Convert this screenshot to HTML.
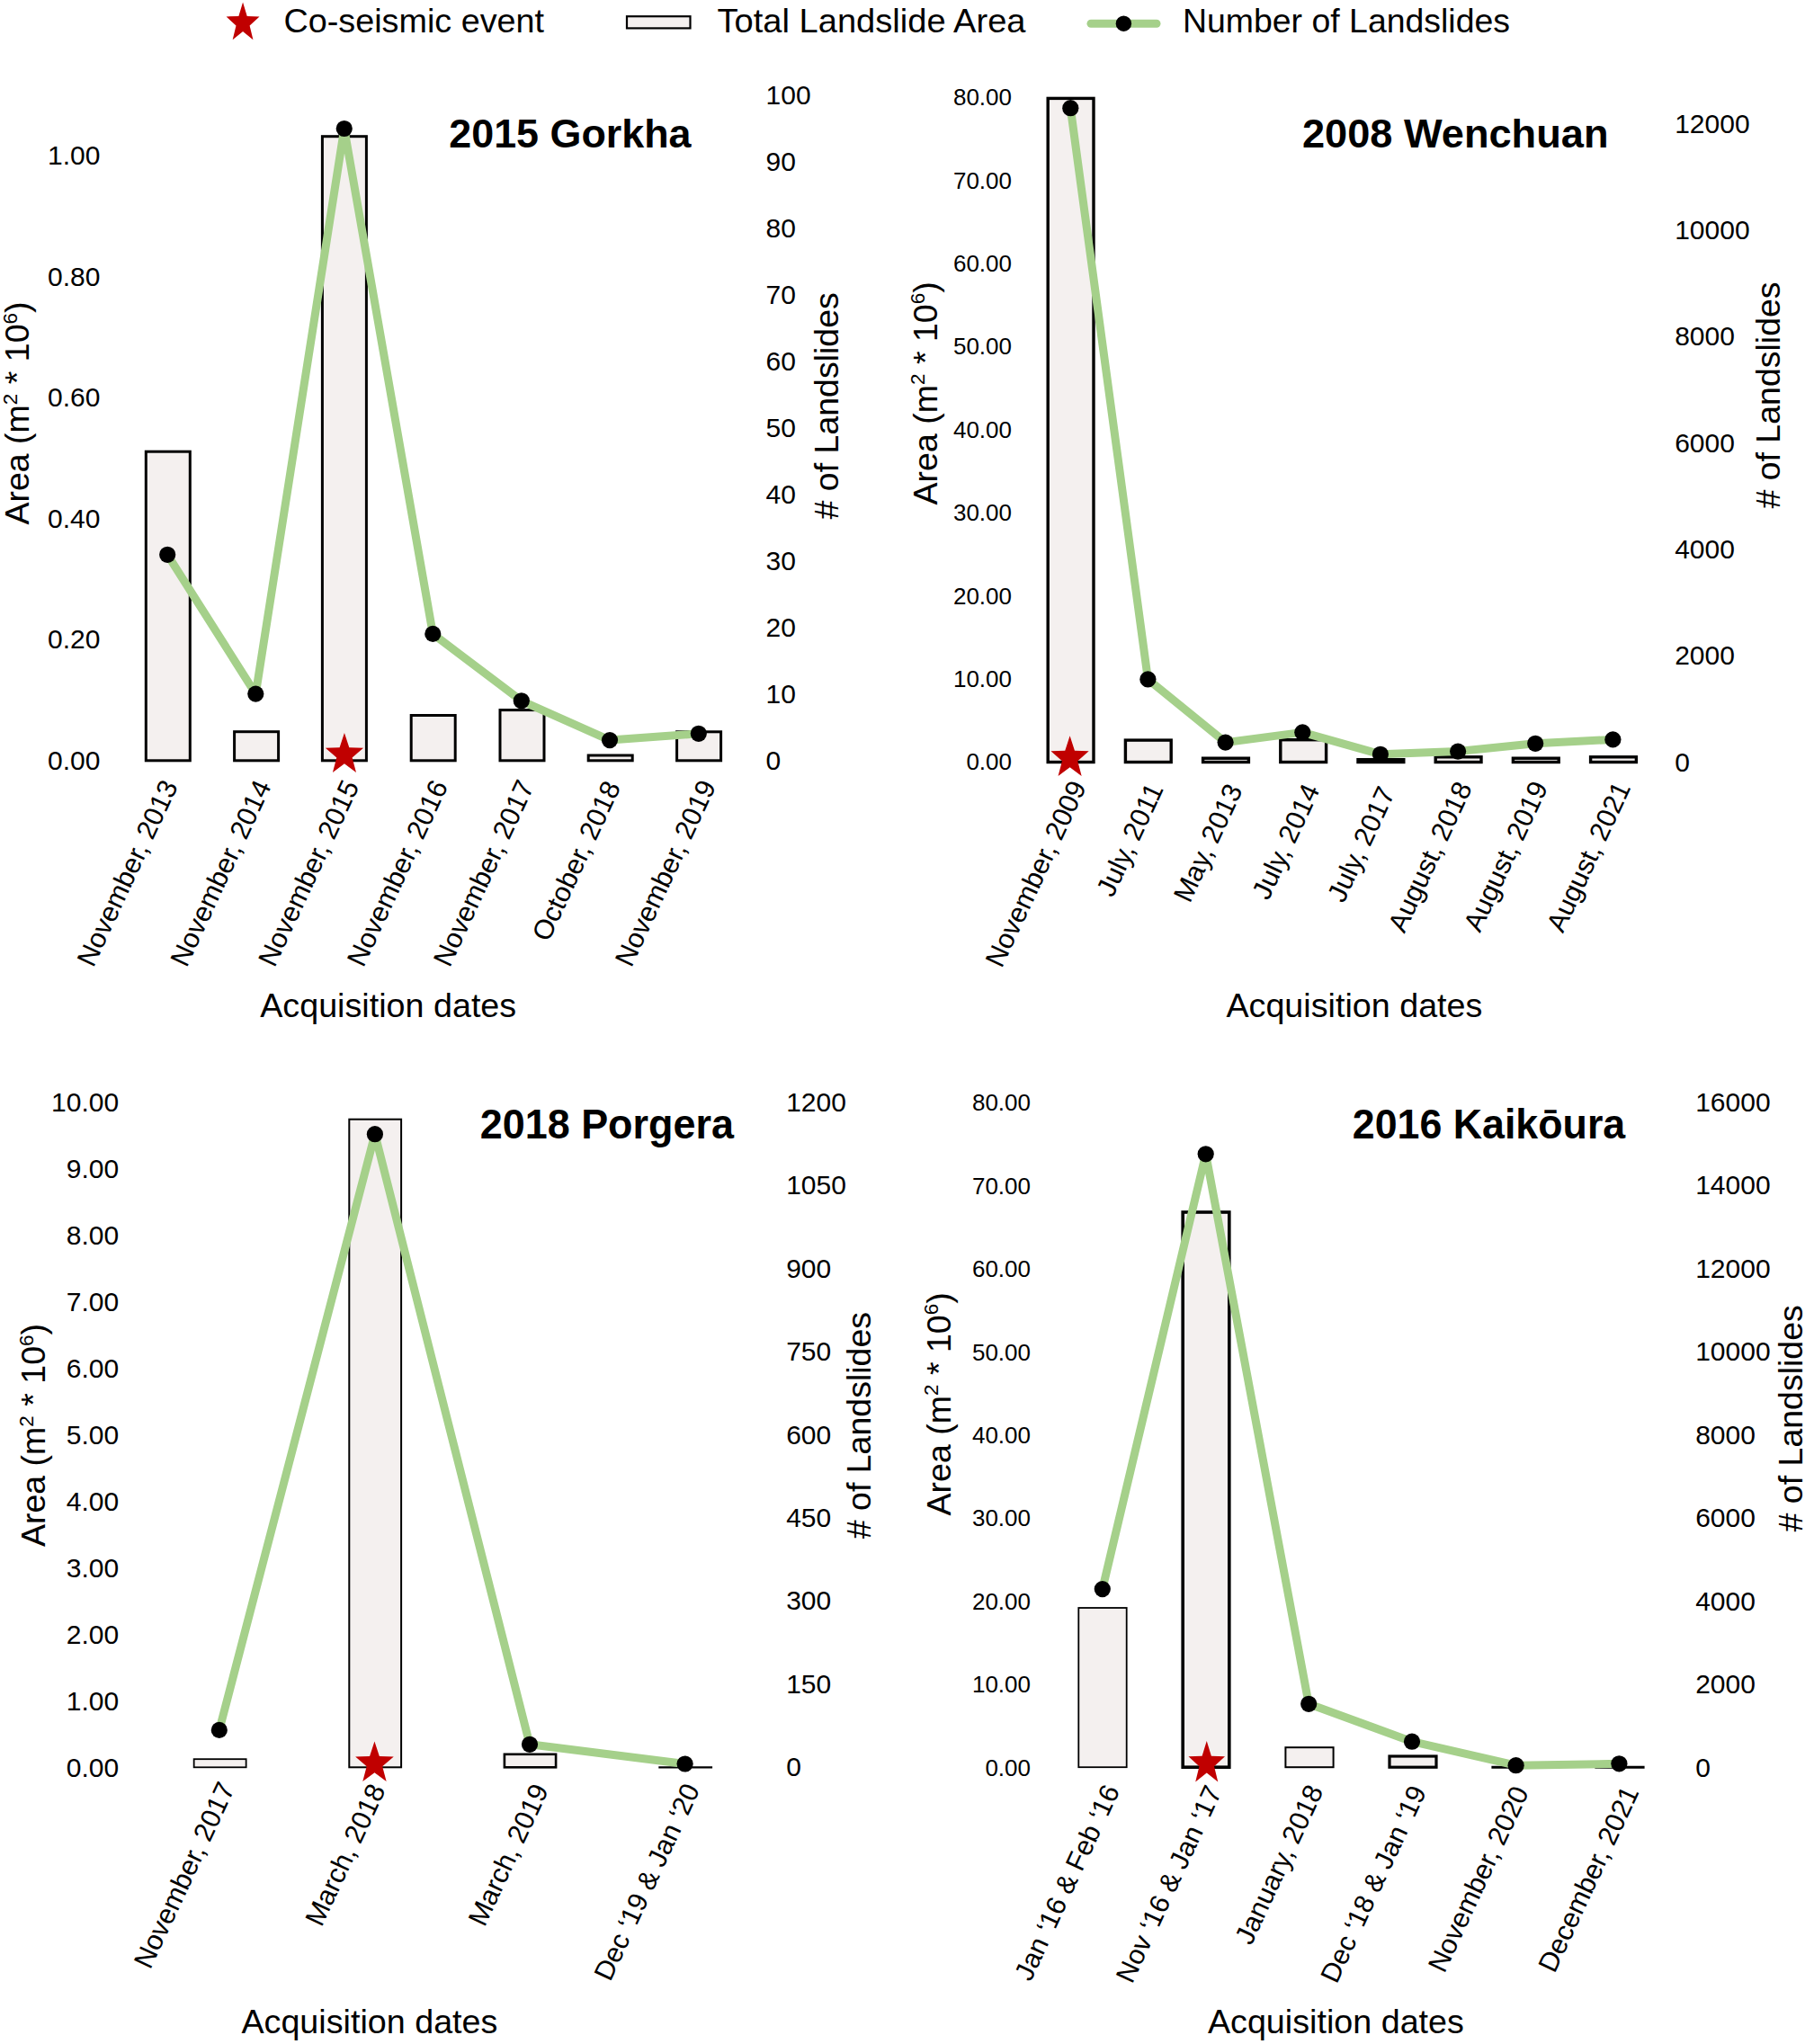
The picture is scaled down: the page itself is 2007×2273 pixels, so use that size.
<!DOCTYPE html>
<html><head><meta charset="utf-8"><title>Landslide time series</title>
<style>
html,body{margin:0;padding:0;background:#fff;}
svg{display:block;}
text{font-family:"Liberation Sans", Arial, Helvetica, sans-serif;fill:#000;}
</style></head><body>
<svg width="2007" height="2273" viewBox="0 0 2007 2273">
<rect width="2007" height="2273" fill="#fff"/>
<polygon points="270.05,2.40 274.73,17.90 288.50,18.43 277.61,28.54 281.45,44.37 270.05,35.11 258.65,44.37 262.49,28.54 251.60,18.43 265.37,17.90" fill="#c00000"/>
<text x="315.50" y="35.50" font-size="37.50" textLength="289.50" lengthAdjust="spacingAndGlyphs">Co-seismic event</text>
<rect x="697" y="18.2" width="70.5" height="13.2" fill="#f4f0ef" stroke="#000" stroke-width="2.2"/>
<text x="797.50" y="35.50" font-size="37.50" textLength="343.00" lengthAdjust="spacingAndGlyphs">Total Landslide Area</text>
<line x1="1213" y1="26.3" x2="1286" y2="26.3" stroke="#a5d08a" stroke-width="9" stroke-linecap="round"/>
<circle cx="1249.4" cy="26.2" r="8.7"/>
<text x="1315.00" y="35.50" font-size="37.50" textLength="364.00" lengthAdjust="spacingAndGlyphs">Number of Landslides</text>
<rect x="162.30" y="502.20" width="49.00" height="343.60" fill="#f4f0ef" stroke="#000" stroke-width="3.00"/>
<rect x="260.60" y="813.70" width="49.00" height="32.10" fill="#f4f0ef" stroke="#000" stroke-width="3.00"/>
<rect x="358.40" y="151.70" width="49.00" height="694.10" fill="#f4f0ef" stroke="#000" stroke-width="3.00"/>
<rect x="457.20" y="795.50" width="49.00" height="50.30" fill="#f4f0ef" stroke="#000" stroke-width="3.00"/>
<rect x="556.00" y="789.60" width="49.00" height="56.20" fill="#f4f0ef" stroke="#000" stroke-width="3.00"/>
<rect x="654.20" y="840.00" width="49.00" height="5.80" fill="#f4f0ef" stroke="#000" stroke-width="3.00"/>
<rect x="752.60" y="813.80" width="49.00" height="32.00" fill="#f4f0ef" stroke="#000" stroke-width="3.00"/>
<polyline points="186.20,616.80 284.30,771.60 382.75,143.00 481.30,704.90 579.80,779.30 678.00,823.10 776.80,815.80" fill="none" stroke="#a5d08a" stroke-width="9" stroke-linejoin="round" stroke-linecap="round"/>
<circle cx="186.20" cy="616.80" r="9.1"/>
<circle cx="284.30" cy="771.60" r="9.1"/>
<circle cx="382.75" cy="143.00" r="9.1"/>
<circle cx="481.30" cy="704.90" r="9.1"/>
<circle cx="579.80" cy="779.30" r="9.1"/>
<circle cx="678.00" cy="823.10" r="9.1"/>
<circle cx="776.80" cy="815.80" r="9.1"/>
<polygon points="382.95,814.90 388.30,831.21 404.06,831.76 391.61,842.39 396.00,859.04 382.95,849.30 369.90,859.04 374.29,842.39 361.84,831.76 377.60,831.21" fill="#c00000"/>
<text x="111.40" y="183.04" font-size="30.00" text-anchor="end">1.00</text>
<text x="111.40" y="317.59" font-size="30.00" text-anchor="end">0.80</text>
<text x="111.40" y="452.14" font-size="30.00" text-anchor="end">0.60</text>
<text x="111.40" y="586.69" font-size="30.00" text-anchor="end">0.40</text>
<text x="111.40" y="721.24" font-size="30.00" text-anchor="end">0.20</text>
<text x="111.40" y="855.79" font-size="30.00" text-anchor="end">0.00</text>
<text x="851.60" y="116.44" font-size="30.00">100</text>
<text x="851.60" y="190.39" font-size="30.00">90</text>
<text x="851.60" y="264.34" font-size="30.00">80</text>
<text x="851.60" y="338.29" font-size="30.00">70</text>
<text x="851.60" y="412.24" font-size="30.00">60</text>
<text x="851.60" y="486.19" font-size="30.00">50</text>
<text x="851.60" y="560.14" font-size="30.00">40</text>
<text x="851.60" y="634.09" font-size="30.00">30</text>
<text x="851.60" y="708.04" font-size="30.00">20</text>
<text x="851.60" y="781.99" font-size="30.00">10</text>
<text x="851.60" y="855.94" font-size="30.00">0</text>
<text x="198.30" y="873.80" font-size="30.50" text-anchor="end" transform="rotate(-65.00 198.30 873.80)">November, 2013</text>
<text x="302.10" y="873.80" font-size="30.50" text-anchor="end" transform="rotate(-65.00 302.10 873.80)">November, 2014</text>
<text x="399.90" y="873.80" font-size="30.50" text-anchor="end" transform="rotate(-65.00 399.90 873.80)">November, 2015</text>
<text x="498.70" y="873.80" font-size="30.50" text-anchor="end" transform="rotate(-65.00 498.70 873.80)">November, 2016</text>
<text x="594.50" y="873.80" font-size="30.50" text-anchor="end" transform="rotate(-65.00 594.50 873.80)">November, 2017</text>
<text x="690.70" y="874.80" font-size="30.50" text-anchor="end" transform="rotate(-65.00 690.70 874.80)">October, 2018</text>
<text x="796.60" y="873.80" font-size="30.50" text-anchor="end" transform="rotate(-65.00 796.60 873.80)">November, 2019</text>
<text x="499.30" y="163.60" font-size="45.00" font-weight="bold" textLength="269.20" lengthAdjust="spacingAndGlyphs">2015 Gorkha</text>
<text x="32.10" y="583.50" font-size="37.50" transform="rotate(-90 32.10 583.50)">Area (m<tspan font-size="22.50" dy="-13.50">2</tspan><tspan dy="13.50"> * 10</tspan><tspan font-size="22.50" dy="-13.50">6</tspan><tspan dy="13.50">)</tspan></text>
<text x="932.00" y="577.40" font-size="37.50" transform="rotate(-90.00 932.00 577.40)" textLength="252.20" lengthAdjust="spacingAndGlyphs"># of Landslides</text>
<text x="289.20" y="1131.40" font-size="37.50" textLength="285.00" lengthAdjust="spacingAndGlyphs">Acquisition dates</text>
<rect x="1165.20" y="109.40" width="50.80" height="738.10" fill="#f4f0ef" stroke="#000" stroke-width="3.40"/>
<rect x="1251.40" y="823.10" width="50.80" height="24.40" fill="#f4f0ef" stroke="#000" stroke-width="3.40"/>
<rect x="1337.60" y="843.20" width="50.80" height="4.30" fill="#f4f0ef" stroke="#000" stroke-width="3.40"/>
<rect x="1423.80" y="822.70" width="50.80" height="24.80" fill="#f4f0ef" stroke="#000" stroke-width="3.40"/>
<rect x="1510.00" y="844.70" width="50.80" height="2.80" fill="#f4f0ef" stroke="#000" stroke-width="3.40"/>
<rect x="1596.20" y="841.80" width="50.80" height="5.70" fill="#f4f0ef" stroke="#000" stroke-width="3.40"/>
<rect x="1682.40" y="843.20" width="50.80" height="4.30" fill="#f4f0ef" stroke="#000" stroke-width="3.40"/>
<rect x="1768.60" y="841.80" width="50.80" height="5.70" fill="#f4f0ef" stroke="#000" stroke-width="3.40"/>
<polyline points="1190.30,120.20 1276.40,755.40 1362.60,825.60 1448.30,814.40 1534.90,838.80 1621.10,835.60 1707.20,826.80 1793.40,822.40" fill="none" stroke="#a5d08a" stroke-width="9" stroke-linejoin="round" stroke-linecap="round"/>
<circle cx="1190.30" cy="120.20" r="9.1"/>
<circle cx="1276.40" cy="755.40" r="9.1"/>
<circle cx="1362.60" cy="825.60" r="9.1"/>
<circle cx="1448.30" cy="814.40" r="9.1"/>
<circle cx="1534.90" cy="838.80" r="9.1"/>
<circle cx="1621.10" cy="835.60" r="9.1"/>
<circle cx="1707.20" cy="826.80" r="9.1"/>
<circle cx="1793.40" cy="822.40" r="9.1"/>
<polygon points="1189.60,818.20 1194.95,834.77 1210.71,835.34 1198.26,846.14 1202.65,863.06 1189.60,853.17 1176.55,863.06 1180.94,846.14 1168.49,835.34 1184.25,834.77" fill="#c00000"/>
<text x="1125.00" y="117.21" font-size="26.00" text-anchor="end">80.00</text>
<text x="1125.00" y="209.61" font-size="26.00" text-anchor="end">70.00</text>
<text x="1125.00" y="302.01" font-size="26.00" text-anchor="end">60.00</text>
<text x="1125.00" y="394.41" font-size="26.00" text-anchor="end">50.00</text>
<text x="1125.00" y="486.81" font-size="26.00" text-anchor="end">40.00</text>
<text x="1125.00" y="579.21" font-size="26.00" text-anchor="end">30.00</text>
<text x="1125.00" y="671.61" font-size="26.00" text-anchor="end">20.00</text>
<text x="1125.00" y="764.01" font-size="26.00" text-anchor="end">10.00</text>
<text x="1125.00" y="856.41" font-size="26.00" text-anchor="end">0.00</text>
<text x="1862.20" y="147.64" font-size="30.00">12000</text>
<text x="1862.20" y="265.99" font-size="30.00">10000</text>
<text x="1862.20" y="384.34" font-size="30.00">8000</text>
<text x="1862.20" y="502.69" font-size="30.00">6000</text>
<text x="1862.20" y="621.04" font-size="30.00">4000</text>
<text x="1862.20" y="739.39" font-size="30.00">2000</text>
<text x="1862.20" y="857.74" font-size="30.00">0</text>
<text x="1208.40" y="874.70" font-size="30.50" text-anchor="end" transform="rotate(-65.00 1208.40 874.70)">November, 2009</text>
<text x="1294.10" y="877.20" font-size="30.50" text-anchor="end" transform="rotate(-65.00 1294.10 877.20)">July, 2011</text>
<text x="1382.30" y="878.20" font-size="30.50" text-anchor="end" transform="rotate(-65.00 1382.30 878.20)">May, 2013</text>
<text x="1468.00" y="878.20" font-size="30.50" text-anchor="end" transform="rotate(-65.00 1468.00 878.20)">July, 2014</text>
<text x="1551.70" y="881.20" font-size="30.50" text-anchor="end" transform="rotate(-65.00 1551.70 881.20)">July, 2017</text>
<text x="1637.40" y="875.70" font-size="30.50" text-anchor="end" transform="rotate(-65.00 1637.40 875.70)">August, 2018</text>
<text x="1721.60" y="875.20" font-size="30.50" text-anchor="end" transform="rotate(-65.00 1721.60 875.20)">August, 2019</text>
<text x="1813.80" y="875.70" font-size="30.50" text-anchor="end" transform="rotate(-65.00 1813.80 875.70)">August, 2021</text>
<text x="1448.00" y="163.80" font-size="45.00" font-weight="bold" textLength="340.50" lengthAdjust="spacingAndGlyphs">2008 Wenchuan</text>
<text x="1042.00" y="561.40" font-size="37.50" transform="rotate(-90 1042.00 561.40)">Area (m<tspan font-size="22.50" dy="-13.50">2</tspan><tspan dy="13.50"> * 10</tspan><tspan font-size="22.50" dy="-13.50">6</tspan><tspan dy="13.50">)</tspan></text>
<text x="1979.50" y="565.60" font-size="37.50" transform="rotate(-90.00 1979.50 565.60)" textLength="252.20" lengthAdjust="spacingAndGlyphs"># of Landslides</text>
<text x="1363.40" y="1131.40" font-size="37.50" textLength="285.00" lengthAdjust="spacingAndGlyphs">Acquisition dates</text>
<rect x="215.65" y="1956.20" width="58.00" height="9.10" fill="#f4f0ef" stroke="#000" stroke-width="1.80"/>
<rect x="388.30" y="1244.70" width="57.80" height="720.60" fill="#f4f0ef" stroke="#000" stroke-width="2.00"/>
<rect x="560.90" y="1950.80" width="57.20" height="14.50" fill="#f4f0ef" stroke="#000" stroke-width="2.60"/>
<line x1="732.30" y1="1965.30" x2="792.10" y2="1965.30" stroke="#000" stroke-width="2.20"/>
<polyline points="243.80,1923.90 416.90,1261.20 589.00,1939.80 761.60,1961.50" fill="none" stroke="#a5d08a" stroke-width="9" stroke-linejoin="round" stroke-linecap="round"/>
<circle cx="243.80" cy="1923.90" r="9.1"/>
<circle cx="416.90" cy="1261.20" r="9.1"/>
<circle cx="589.00" cy="1939.80" r="9.1"/>
<circle cx="761.60" cy="1961.50" r="9.1"/>
<polygon points="416.45,1936.60 421.85,1953.04 437.75,1953.60 425.18,1964.32 429.62,1981.10 416.45,1971.29 403.28,1981.10 407.72,1964.32 395.15,1953.60 411.05,1953.04" fill="#c00000"/>
<text x="132.20" y="1236.04" font-size="30.00" text-anchor="end">10.00</text>
<text x="132.20" y="1309.99" font-size="30.00" text-anchor="end">9.00</text>
<text x="132.20" y="1383.94" font-size="30.00" text-anchor="end">8.00</text>
<text x="132.20" y="1457.89" font-size="30.00" text-anchor="end">7.00</text>
<text x="132.20" y="1531.84" font-size="30.00" text-anchor="end">6.00</text>
<text x="132.20" y="1605.79" font-size="30.00" text-anchor="end">5.00</text>
<text x="132.20" y="1679.74" font-size="30.00" text-anchor="end">4.00</text>
<text x="132.20" y="1753.69" font-size="30.00" text-anchor="end">3.00</text>
<text x="132.20" y="1827.64" font-size="30.00" text-anchor="end">2.00</text>
<text x="132.20" y="1901.59" font-size="30.00" text-anchor="end">1.00</text>
<text x="132.20" y="1975.54" font-size="30.00" text-anchor="end">0.00</text>
<text x="874.20" y="1235.64" font-size="30.00">1200</text>
<text x="874.20" y="1328.11" font-size="30.00">1050</text>
<text x="874.20" y="1420.58" font-size="30.00">900</text>
<text x="874.20" y="1513.05" font-size="30.00">750</text>
<text x="874.20" y="1605.52" font-size="30.00">600</text>
<text x="874.20" y="1697.99" font-size="30.00">450</text>
<text x="874.20" y="1790.46" font-size="30.00">300</text>
<text x="874.20" y="1882.93" font-size="30.00">150</text>
<text x="874.20" y="1975.40" font-size="30.00">0</text>
<text x="261.65" y="1988.20" font-size="30.50" text-anchor="end" transform="rotate(-65.00 261.65 1988.20)">November, 2017</text>
<text x="429.20" y="1990.20" font-size="30.50" text-anchor="end" transform="rotate(-65.00 429.20 1990.20)">March, 2018</text>
<text x="610.50" y="1990.20" font-size="30.50" text-anchor="end" transform="rotate(-65.00 610.50 1990.20)">March, 2019</text>
<text x="778.70" y="1989.70" font-size="30.25" text-anchor="end" transform="rotate(-65.00 778.70 1989.70)">Dec ‘19 &amp; Jan ‘20</text>
<text x="533.70" y="1265.60" font-size="46.00" font-weight="bold" textLength="282.30" lengthAdjust="spacingAndGlyphs">2018 Porgera</text>
<text x="50.40" y="1720.00" font-size="37.50" transform="rotate(-90 50.40 1720.00)">Area (m<tspan font-size="22.50" dy="-13.50">2</tspan><tspan dy="13.50"> * 10</tspan><tspan font-size="22.50" dy="-13.50">6</tspan><tspan dy="13.50">)</tspan></text>
<text x="968.00" y="1711.20" font-size="37.50" transform="rotate(-90.00 968.00 1711.20)" textLength="252.20" lengthAdjust="spacingAndGlyphs"># of Landslides</text>
<text x="268.40" y="2261.40" font-size="37.50" textLength="285.00" lengthAdjust="spacingAndGlyphs">Acquisition dates</text>
<rect x="1199.30" y="1788.00" width="53.40" height="177.20" fill="#f4f0ef" stroke="#000" stroke-width="1.80"/>
<rect x="1315.20" y="1348.00" width="51.60" height="617.20" fill="#f4f0ef" stroke="#000" stroke-width="3.60"/>
<rect x="1429.40" y="1943.20" width="53.20" height="22.00" fill="#f4f0ef" stroke="#000" stroke-width="2.00"/>
<rect x="1545.00" y="1953.00" width="52.00" height="12.20" fill="#f4f0ef" stroke="#000" stroke-width="3.20"/>
<line x1="1658.40" y1="1965.20" x2="1713.60" y2="1965.20" stroke="#000" stroke-width="3.00"/>
<line x1="1773.40" y1="1965.20" x2="1828.60" y2="1965.20" stroke="#000" stroke-width="3.00"/>
<polyline points="1225.80,1767.10 1340.70,1283.30 1455.20,1894.80 1570.00,1936.70 1685.60,1963.20 1800.40,1961.30" fill="none" stroke="#a5d08a" stroke-width="9" stroke-linejoin="round" stroke-linecap="round"/>
<circle cx="1225.80" cy="1767.10" r="9.1"/>
<circle cx="1340.70" cy="1283.30" r="9.1"/>
<circle cx="1455.20" cy="1894.80" r="9.1"/>
<circle cx="1570.00" cy="1936.70" r="9.1"/>
<circle cx="1685.60" cy="1963.20" r="9.1"/>
<circle cx="1800.40" cy="1961.30" r="9.1"/>
<polygon points="1341.75,1935.90 1346.88,1952.74 1362.01,1953.31 1350.06,1964.29 1354.27,1981.49 1341.75,1971.43 1329.23,1981.49 1333.44,1964.29 1321.49,1953.31 1336.62,1952.74" fill="#c00000"/>
<text x="1146.00" y="1235.31" font-size="26.00" text-anchor="end">80.00</text>
<text x="1146.00" y="1327.71" font-size="26.00" text-anchor="end">70.00</text>
<text x="1146.00" y="1420.11" font-size="26.00" text-anchor="end">60.00</text>
<text x="1146.00" y="1512.51" font-size="26.00" text-anchor="end">50.00</text>
<text x="1146.00" y="1604.91" font-size="26.00" text-anchor="end">40.00</text>
<text x="1146.00" y="1697.31" font-size="26.00" text-anchor="end">30.00</text>
<text x="1146.00" y="1789.71" font-size="26.00" text-anchor="end">20.00</text>
<text x="1146.00" y="1882.11" font-size="26.00" text-anchor="end">10.00</text>
<text x="1146.00" y="1974.51" font-size="26.00" text-anchor="end">0.00</text>
<text x="1885.20" y="1235.54" font-size="30.00">16000</text>
<text x="1885.20" y="1328.08" font-size="30.00">14000</text>
<text x="1885.20" y="1420.62" font-size="30.00">12000</text>
<text x="1885.20" y="1513.16" font-size="30.00">10000</text>
<text x="1885.20" y="1605.70" font-size="30.00">8000</text>
<text x="1885.20" y="1698.24" font-size="30.00">6000</text>
<text x="1885.20" y="1790.78" font-size="30.00">4000</text>
<text x="1885.20" y="1883.32" font-size="30.00">2000</text>
<text x="1885.20" y="1975.86" font-size="30.00">0</text>
<text x="1245.50" y="1991.00" font-size="30.25" text-anchor="end" transform="rotate(-65.00 1245.50 1991.00)">Jan ‘16 &amp; Feb ‘16</text>
<text x="1359.00" y="1992.00" font-size="30.25" text-anchor="end" transform="rotate(-65.00 1359.00 1992.00)">Nov ‘16 &amp; Jan ‘17</text>
<text x="1472.00" y="1991.00" font-size="30.50" text-anchor="end" transform="rotate(-65.00 1472.00 1991.00)">January, 2018</text>
<text x="1586.50" y="1992.00" font-size="30.25" text-anchor="end" transform="rotate(-65.00 1586.50 1992.00)">Dec ‘18 &amp; Jan ‘19</text>
<text x="1700.50" y="1992.50" font-size="30.50" text-anchor="end" transform="rotate(-65.00 1700.50 1992.50)">November, 2020</text>
<text x="1823.00" y="1992.50" font-size="30.50" text-anchor="end" transform="rotate(-65.00 1823.00 1992.50)">December, 2021</text>
<text x="1503.80" y="1265.60" font-size="46.30" font-weight="bold" textLength="303.40" lengthAdjust="spacingAndGlyphs">2016 Kaikōura</text>
<text x="1056.80" y="1685.40" font-size="37.50" transform="rotate(-90 1056.80 1685.40)">Area (m<tspan font-size="22.50" dy="-13.50">2</tspan><tspan dy="13.50"> * 10</tspan><tspan font-size="22.50" dy="-13.50">6</tspan><tspan dy="13.50">)</tspan></text>
<text x="2004.00" y="1703.40" font-size="37.50" transform="rotate(-90.00 2004.00 1703.40)" textLength="252.20" lengthAdjust="spacingAndGlyphs"># of Landslides</text>
<text x="1342.90" y="2261.40" font-size="37.50" textLength="285.00" lengthAdjust="spacingAndGlyphs">Acquisition dates</text>
</svg>
</body></html>
